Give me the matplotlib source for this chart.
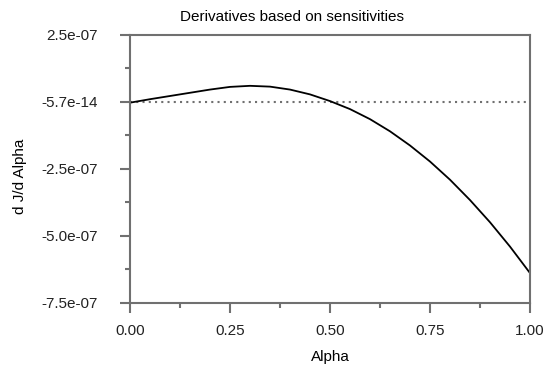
import matplotlib
matplotlib.use("Agg")
import matplotlib.pyplot as plt

plt.rcParams['font.family'] = ['Liberation Sans', 'DejaVu Sans']

alpha = [0.00, 0.05, 0.10, 0.15, 0.20, 0.25, 0.30, 0.35, 0.40, 0.45, 0.50,
         0.55, 0.60, 0.65, 0.70, 0.75, 0.80, 0.85, 0.90, 0.95, 1.00]
djda = [-3e-09, 1.0e-08, 2.2e-08, 3.4e-08, 4.6e-08, 5.6e-08, 6.0e-08, 5.7e-08,
        4.6e-08, 2.8e-08, 3e-09, -2.7e-08, -6.46e-08, -1.10e-07, -1.63e-07,
        -2.23e-07, -2.91e-07, -3.67e-07, -4.50e-07, -5.41e-07, -6.40e-07]

x_ticks = [0.0, 0.25, 0.5, 0.75, 1.0]
x_tick_labels = ["0.00", "0.25", "0.50", "0.75", "1.00"]
x_minor = [0.125, 0.375, 0.625, 0.875]
y_ticks = [2.5e-07, 0.0, -2.5e-07, -5.0e-07, -7.5e-07]
y_tick_labels = ["2.5e-07", "-5.7e-14", "-2.5e-07", "-5.0e-07", "-7.5e-07"]
y_minor = [1.25e-07, -1.25e-07, -3.75e-07, -6.25e-07]

W, H = 544, 366
axis_grey = '#707070'

fig = plt.figure(figsize=(W / 100, H / 100), dpi=100)
ax = fig.add_axes([130 / W, 1 - 302.5 / H, 400 / W, 267.5 / H])

ax.axhline(0, color=axis_grey, lw=1.5, linestyle=(0, (1, 2)))
ax.plot(alpha, djda, color='black', lw=1.3)

ax.set_xlim(0, 1)
ax.set_ylim(-7.5e-07, 2.5e-07)
ax.set_xticks(x_ticks)
ax.set_xticklabels(x_tick_labels)
ax.set_xticks(x_minor, minor=True)
ax.set_yticks(y_ticks)
ax.set_yticklabels(y_tick_labels)
ax.set_yticks(y_minor, minor=True)

for s in ax.spines.values():
    s.set_color(axis_grey)
    s.set_linewidth(1.5)
ax.tick_params(which='major', length=7.2, width=1.5, color=axis_grey,
               labelsize=11, labelcolor='#222222')
ax.tick_params(which='minor', length=3.6, width=1.5, color=axis_grey)
ax.tick_params(axis='y', which='major', pad=16)
ax.tick_params(axis='x', which='major', pad=8)

fig.text(292 / W, 1 - 17 / H, "Derivatives based on sensitivities",
         ha='center', va='center', fontsize=11)
fig.text(330 / W, 1 - 357 / H, "Alpha", ha='center', va='center', fontsize=11)
fig.text(20 / W, 1 - 176 / H, "d J/d Alpha", ha='center', va='center',
         rotation=90, fontsize=11)

fig.savefig("out.png", dpi=100)
